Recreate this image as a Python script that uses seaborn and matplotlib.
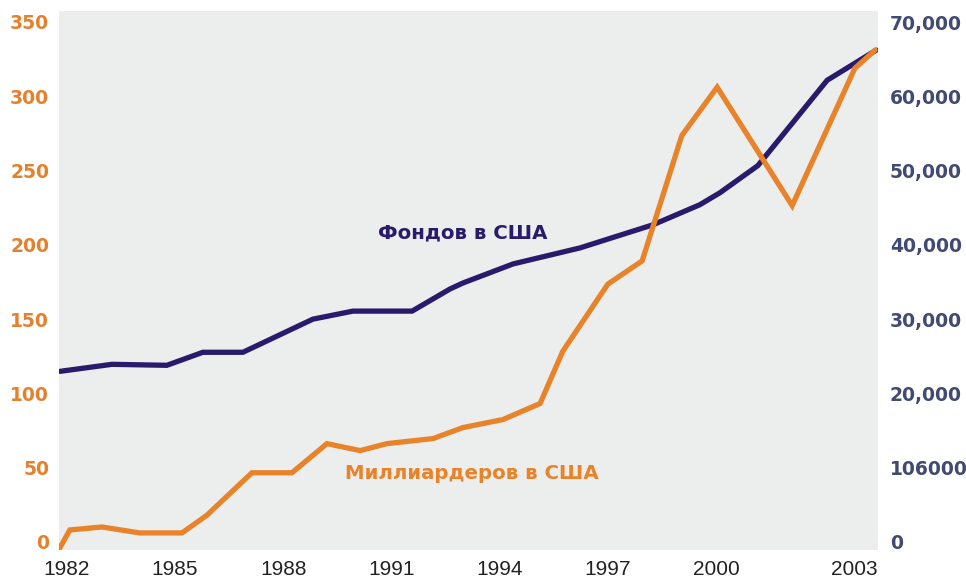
import matplotlib
matplotlib.use("Agg")
import matplotlib.pyplot as plt
import seaborn as sns
import pandas as pd

# ---- data ----
bill_years = [1981.78, 1982.08, 1982.97, 1984.02, 1985.19, 1985.88, 1987.13, 1988.24,
              1989.21, 1990.13, 1990.87, 1992.15, 1992.98, 1994.09, 1995.12, 1995.75,
              1997.00, 1997.95, 1999.05, 2000.03, 2002.11, 2003.85, 2004.41]
bill_values = [-5, 8.1, 10.1, 6.1, 6.1, 18, 46.6, 46.6,
               66.2, 61.5, 66.2, 69.6, 77.0, 82.4, 93.2, 128.4,
               173.6, 189.2, 273.6, 306.1, 226.4, 318.9, 331.1]

fund_years = [1981.81, 1983.25, 1984.77, 1985.77, 1986.88, 1988.82, 1989.93, 1991.57,
              1992.62, 1992.98, 1994.37, 1996.23, 1998.25, 1999.55, 2000.11, 2001.16,
              2003.08, 2004.44]
fund_values = [22974, 23920, 23785, 25541, 25541, 30001, 31082, 31082,
               34055, 34866, 37434, 39596, 42704, 45407, 47029, 50678,
               62164, 66219]

x_tick_labels = ["1982", "1985", "1988", "1991", "1994", "1997", "2000", "2003"]
x_tick_pos = [1982, 1985, 1988, 1991, 1994, 1997, 2000, 2003.83]
left_ticks = [0, 50, 100, 150, 200, 250, 300, 350]
right_ticks = [0, 10000, 20000, 30000, 40000, 50000, 60000, 70000]
right_tick_labels = ["0", "106000", "20,000", "30,000", "40,000", "50,000", "60,000", "70,000"]

label_funds = "Фондов в США"
label_bill = "Миллиардеров в США"

ORANGE = "#E8832A"
NAVY = "#2A1A6C"
RIGHT_TXT = "#414B72"
LEFT_TXT = "#E4812F"
BG = "#ECEEEE"

sns.set_theme(style="white")
plt.rcParams['font.family'] = ['DejaVu Sans']

fig = plt.figure(figsize=(9.66, 5.83), dpi=100)
ax2 = fig.add_axes([59 / 966, 1 - 550 / 583, (878 - 59) / 966, (550 - 11) / 583])
ax = ax2.twinx()
# ax2 (funds, right axis) lies underneath and carries the gray background
ax2.yaxis.tick_right()
ax.yaxis.tick_left()
ax.yaxis.set_label_position("left")
ax2.yaxis.set_label_position("right")
ax2.set_facecolor(BG)
ax2.patch.set_visible(True)
ax.patch.set_visible(False)

df_f = pd.DataFrame({"year": fund_years, "value": fund_values})
df_b = pd.DataFrame({"year": bill_years, "value": bill_values})

sns.lineplot(data=df_f, x="year", y="value", ax=ax2, color=NAVY, lw=3.8, sort=False,
             solid_joinstyle="miter")
sns.lineplot(data=df_b, x="year", y="value", ax=ax, color=ORANGE, lw=3.8, sort=False,
             solid_joinstyle="miter")

ax.set_xlim(1981.78, 2004.49)
ax2.set_xlim(1981.78, 2004.49)
ax.set_ylim(-5.4, 357.4)
ax2.set_ylim(-1081, 71489)

for a in (ax, ax2):
    for s in a.spines.values():
        s.set_visible(False)
    a.set_xlabel("")
    a.set_ylabel("")

ax.set_yticks(left_ticks)
ax.set_yticklabels([str(v) for v in left_ticks], fontweight="bold", fontsize=13.5, color=LEFT_TXT)
ax.tick_params(axis="y", length=0, pad=7, left=True, labelleft=True, right=False, labelright=False)

ax2.set_yticks(right_ticks)
ax2.set_yticklabels(right_tick_labels, fontweight="bold", fontsize=13.5, color=RIGHT_TXT)
ax2.tick_params(axis="y", length=0, pad=8.5, right=True, labelright=True, left=False, labelleft=False)

ax2.set_xticks(x_tick_pos)
ax2.set_xticklabels(x_tick_labels, fontsize=15, color="#222222",
                    family=["Liberation Sans", "DejaVu Sans"])
ax2.tick_params(axis="x", length=0, pad=7)
ax.tick_params(axis="x", length=0, labelbottom=False, bottom=False)

ax.text(1990.62, 208, label_funds, color=NAVY, fontsize=14.2, fontweight="bold",
        ha="left", va="center")
ax.text(1989.71, 46, label_bill, color=ORANGE, fontsize=14.2, fontweight="bold",
        ha="left", va="center")

fig.savefig("out.png", dpi=100, facecolor="white")
